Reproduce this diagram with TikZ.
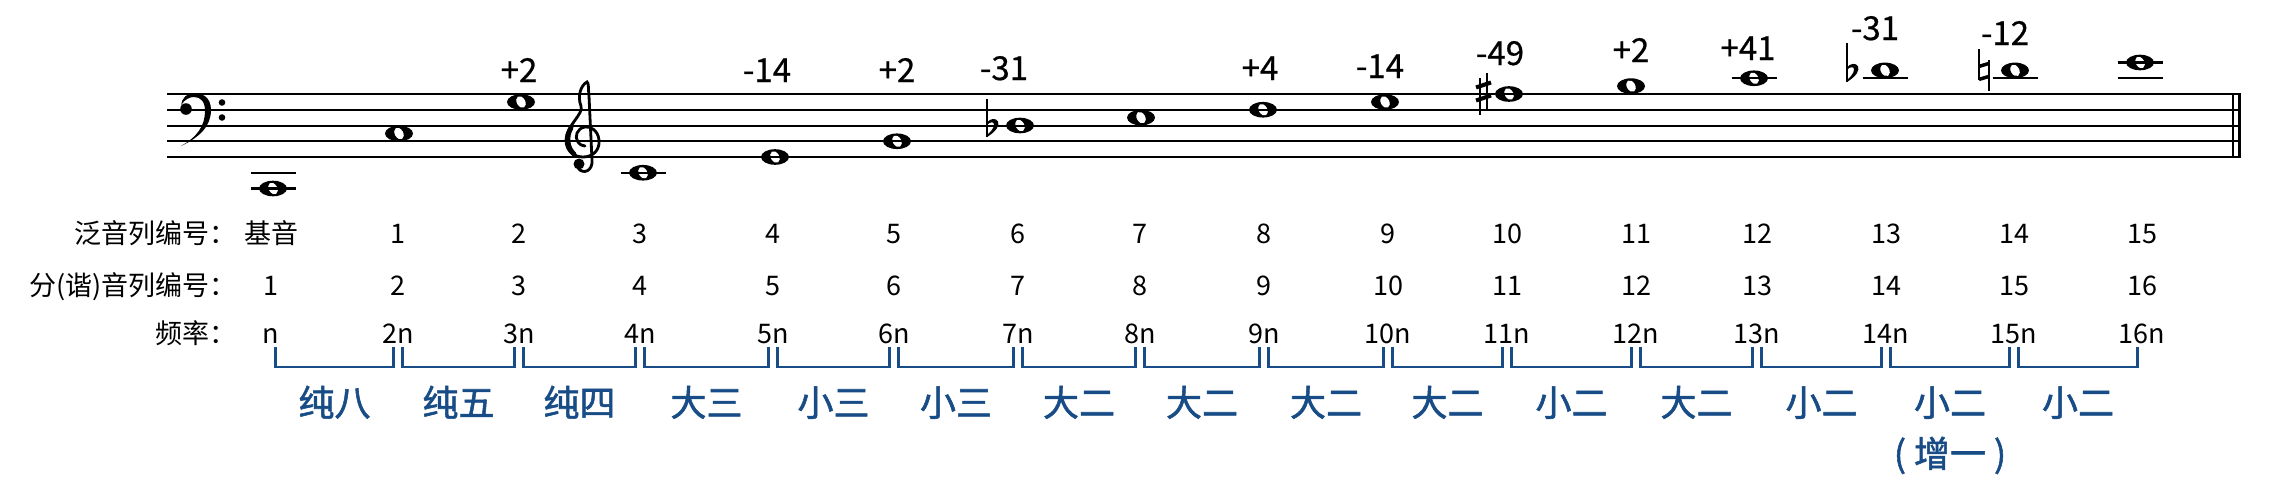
\documentclass[tikz,border=0pt]{standalone}
\usepackage{fontspec}
\setmainfont{Noto Sans CJK SC}
\newfontfamily\cjkbold[FakeBold=1.5]{Noto Sans CJK SC}
\newfontfamily\cjksemi[FakeBold=0.6]{Noto Sans CJK SC}
\definecolor{ivblue}{RGB}{24,76,134}
\tikzset{
  staffline/.style={line width=2pt},
  ledger/.style={line width=2.4pt},
  rowtxt/.style={font=\fontsize{27}{30}\selectfont, anchor=base, inner sep=0pt},
  rowhead/.style={font=\fontsize{27}{30}\selectfont, anchor=base east, inner sep=0pt},
  cents/.style={font=\cjksemi\fontsize{33}{36}\selectfont, anchor=base, inner sep=0pt},
  ivl/.style={font=\cjkbold\fontsize{36}{40}\selectfont, text=ivblue, anchor=base, inner sep=0pt},
  brk/.style={line width=2.6pt, draw=ivblue},
  wnote/.pic={
    \fill (0,0) ellipse [x radius=14pt, y radius=7.8pt];
    \fill[white, rotate=30] (0,0) ellipse [x radius=4.2pt, y radius=6.2pt];
  },
  flatsign/.pic={
    \draw[line width=1.8pt] (0,-27) -- (0,11.5);
    \fill (0,11.5) .. controls (9,6) and (13,0) .. (11,-4)
          .. controls (9,-8) and (3,-7) .. (0,-3) -- (0,-0.5)
          .. controls (3,-4) and (7,-4) .. (7,-1)
          .. controls (7,3) and (3,7) .. (0,9.5) -- cycle;
  },
  sharpsign/.pic={
    \draw[line width=1.6pt] (-3.5,-16) -- (-3.5,21) (3.5,-21) -- (3.5,16);
    \draw[line width=4pt] (-7.5,-6.5) -- (7.5,-11.5) (-7.5,6.5) -- (7.5,1.5);
  },
  naturalsign/.pic={
    \draw[line width=1.8pt] (-5,-21) -- (-5,10) (5,-10) -- (5,21);
    \draw[line width=3.5pt] (-5,-4) -- (5,-7) (-5,9) -- (5,6);
  }
}
\def\cols{271,398,519,640,773,894,1018,1140,1264,1388,1507,1636,1757,1886,2014,2142}
\begin{document}
\begin{tikzpicture}[x=1pt,y=-1pt]
\useasboundingbox[fill=white] (0,0) rectangle (2269,493);

% ---- notes (drawn before lines so lines show through holes)
\foreach \nx/\ny in {273/188.5, 399/133.5, 521/102, 643/172.75, 775/157, 897/141.25,
  1020/125.5, 1141/117.6, 1263/109.75, 1385/102, 1509/94, 1631/86.1, 1754/78.25,
  1885/70.4, 2015/70.4, 2140/62.5}
  \pic at (\nx,\ny) {wnote};

% ---- staff
\foreach \sy in {94,109.75,125.5,141.25,157}
  \draw[staffline] (167,\sy) -- (2241,\sy);
\draw[line width=2pt] (2232.5,94) -- (2232.5,157);
\draw[line width=3pt] (2239.5,94) -- (2239.5,157);

% ---- ledger lines
\foreach \lx/\ly in {273/172.75, 273/188.5, 643/172.75, 1754/78.25, 1885/78.25,
  2015/78.25, 2140/78.25, 2140/62.5}
  \draw[ledger] (\lx-22.5,\ly) -- (\lx+22.5,\ly);

% ---- accidentals
\pic at (987,125.5) {flatsign};
\pic at (1847,70.4) {flatsign};
\pic at (1483.5,94) {sharpsign};
\pic at (1984,70.4) {naturalsign};

% ---- bass clef
\fill (181,146) .. controls (200,137) and (211,126) .. (211,110)
      .. controls (211,97) and (202,93) .. (194,93)
      .. controls (187,93) and (182,98) .. (181,105)
      .. controls (185,99) and (190,97) .. (194,97)
      .. controls (201,97) and (205,102) .. (205,111)
      .. controls (205,126) and (197,137) .. (181,146) -- cycle;
\fill (186,109) circle (5.8pt);
\fill (222,102.5) circle (3.3pt);
\fill (222,117.5) circle (3.3pt);

% ---- treble clef
\draw[line width=2.8pt, line cap=round]
  (578,168) .. controls (583,175) and (593,171) .. (592,160)
  -- (589,96)
  .. controls (588,88) and (589,83) .. (587,82)
  .. controls (581,85) and (577,96) .. (581,106)
  .. controls (584,114) and (566,126) .. (566,140)
  .. controls (566,151) and (574,157) .. (583,157)
  .. controls (593,157) and (600,150) .. (599,140)
  .. controls (598,130) and (590,126) .. (585,127)
  .. controls (577,128) and (574,137) .. (578,142)
  .. controls (580,145) and (583,146) .. (585,146);
\draw[line width=4.8pt, line cap=round] (571,128) .. controls (566,136) and (567,148) .. (574,154);
\fill (579,164) circle (5.5pt);

% ---- cents deviations
\foreach \cx/\cy/\ct [count=\k] in {519/82/+2, 767/82/-14, 897/82/+2, 1004/80/-31,
  1260/80/+4, 1380/78/-14, 1500/65/-49, 1631/62/+2, 1748/60/+41, 1875/40/-31, 2005/45/-12}
  \node[cents] (cent\k) at (\cx,\cy) {\ct};

% ---- row headers
\node[rowhead] (head1) at (237,243) {泛音列编号：};
\node[rowhead] (head2) at (237,295) {分(谐)音列编号：};
\node[rowhead] (head3) at (237,343) {频率：};

% ---- rows
\foreach \x [count=\i from 0] in \cols {
  \node[rowtxt] (ov\i) at (\x,243) {\ifnum\i=0 基音\else\i\fi};
  \node[rowtxt] (pa\i) at (\x,295) {\the\numexpr\i+1\relax};
  \node[rowtxt] (fr\i) at (\x,343) {\ifnum\i=0 n\else\the\numexpr\i+1\relax n\fi};
}

% ---- brackets and interval names
\foreach \a/\b/\lab [count=\j] in {271/398/纯八, 398/519/纯五, 519/640/纯四, 640/773/大三,
  773/894/小三, 894/1018/小三, 1018/1140/大二, 1140/1264/大二, 1264/1388/大二,
  1388/1507/大二, 1507/1636/小二, 1636/1757/大二, 1757/1886/小二, 1886/2014/小二,
  2014/2142/小二} {
  \coordinate (bkl\j) at (\a+4.5,347);
  \coordinate (bkr\j) at (\b-4.5,347);
  \draw[brk] (bkl\j) -- ++(0,20) -| (bkr\j);
  \node[ivl] (iv\j) at ({(\a+\b)/2},416) {\lab};
}
\node[ivl] (aug) at (1950,467) {(\hspace{8pt}增一\hspace{8pt})};
\end{tikzpicture}
\end{document}
